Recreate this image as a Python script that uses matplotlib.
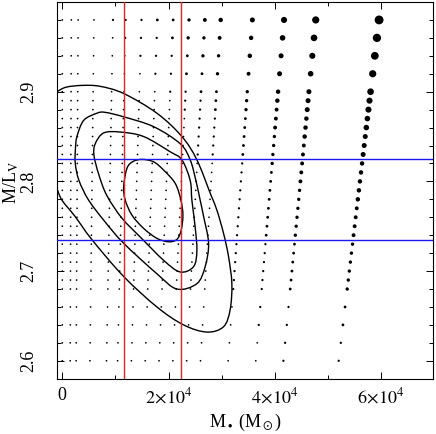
import numpy as np
import matplotlib
matplotlib.use("Agg")
import matplotlib.pyplot as plt
from matplotlib.path import Path
from matplotlib.patches import PathPatch
from matplotlib.ticker import MultipleLocator, FixedLocator

plt.rcParams['font.family'] = ['Liberation Serif', 'DejaVu Serif']
plt.rcParams['mathtext.fontset'] = 'stix'

# model grid: columns are M_BH/(M/L), rows are M/L_V (top to bottom)
mass_ratio = [0, 570, 1000, 2000, 3200, 4000, 5000, 6000, 7000, 8000,
              9000, 10000, 12000, 14000, 16000, 20000]
ml_rows = [2.98, 2.96, 2.94, 2.92, 2.90, 2.89, 2.88, 2.87, 2.86, 2.85,
           2.84, 2.83, 2.82, 2.81, 2.80, 2.79, 2.78, 2.77, 2.76, 2.75,
           2.74, 2.73, 2.72, 2.71, 2.70, 2.69, 2.68, 2.66, 2.64, 2.62, 2.60]
# dot size class per model (hex digit), one string per row
dot_class = [
    "2222333445678acf",
    "22222333455679be",
    "22222233345578ad",
    "222222233445689c",
    "222222223344578b",
    "222222222334578a",
    "222222222334568a",
    "2222222222334679",
    "2222222222334679",
    "2222222222334578",
    "2222222222334568",
    "2222222222334568",
    "2222222222223567",
    "2222222222223467",
    "2222222222223467",
    "2222222222223457",
    "2222222222223457",
    "2222222222223456",
    "2222222222223456",
    "2222222222223456",
    "2222222222223456",
    "2222222222223345",
    "2222222222223345",
    "2222222222223345",
    "2222222222223345",
    "2222222222223345",
    "2222222222223345",
    "2222222222222334",
    "2222222222222334",
    "2222222222222233",
    "2222222222222233",
]

# chi^2 contours (M_BH, M/L_V)
c1_m = [15000, 17180, 19060, 21240, 22310, 22690, 22370, 21560, 20000, 17800,
        15300, 13100, 11840, 11540, 12160, 13290]
c1_ml = [2.8245, 2.8218, 2.8126, 2.7978, 2.7792, 2.7624, 2.7457, 2.7353, 2.7327,
         2.7365, 2.7476, 2.7624, 2.7792, 2.7940, 2.8145, 2.8221]
c2_m = [10900, 15300, 20300, 22500, 24060, 24380, 25000, 25320, 24700, 22180,
        19060, 14660, 11220, 8400, 6900, 5960, 6200, 7780]
c2_ml = [2.855, 2.850, 2.833, 2.824, 2.801, 2.779, 2.749, 2.723, 2.705, 2.699,
         2.712, 2.738, 2.759, 2.784, 2.807, 2.829, 2.842, 2.854]
c3_m = [8030, 11540, 17180, 22180, 24060, 25130, 25940, 26580, 27520, 26880,
        25320, 21560, 17800, 11540, 8030, 4960, 3140, 2440, 2480, 2760, 4020, 6520]
c3_ml = [2.877, 2.872, 2.861, 2.842, 2.824, 2.801, 2.779, 2.761, 2.731, 2.705,
         2.686, 2.680, 2.697, 2.731, 2.755, 2.779, 2.801, 2.820, 2.837, 2.850,
         2.868, 2.876]
c4_m = [-1000, 700, 3700, 7090, 11540, 17800, 22500, 25320, 27950, 29080, 30340,
        31280, 31900, 31580, 30340, 27200, 22820, 17800, 11540, 5580, 2390, -60, -1000]
c4_ml = [2.900, 2.905, 2.907, 2.906, 2.898, 2.876, 2.850, 2.824, 2.785, 2.768,
         2.742, 2.716, 2.686, 2.657, 2.638, 2.632, 2.640, 2.660, 2.694, 2.735,
         2.761, 2.779, 2.792]

# 1-sigma ranges
mbh_lim = [11600, 22300]
ml_lim = [2.735, 2.825]


def smooth_path(ax, xs, ys, closed):
    # draw the read contour points as a smooth curve (Catmull-Rom as Bezier),
    # tangents taken in display space so axis scaling does not distort it
    p = ax.transData.transform(np.column_stack([xs, ys]))
    n = len(p)
    if closed:
        prev = np.roll(p, 1, axis=0)
        nxt = np.roll(p, -1, axis=0)
    else:
        prev = np.vstack([p[:1], p[:-1]])
        nxt = np.vstack([p[1:], p[-1:]])
    tang = (nxt - prev) / 6.0
    verts = [p[0]]
    codes = [Path.MOVETO]
    segs = n if closed else n - 1
    for i in range(segs):
        k = (i + 1) % n
        verts += [p[i] + tang[i], p[k] - tang[k], p[k]]
        codes += [Path.CURVE4] * 3
    path = Path(np.array(verts), codes)
    patch = PathPatch(path, facecolor='none', edgecolor='k', lw=1.0,
                      transform=None, zorder=3)
    patch.set_clip_box(ax.bbox)
    ax.add_artist(patch)


fig = plt.figure(figsize=(4.36, 4.34), dpi=100)
ax = fig.add_axes([0.1307, 0.1274, 0.8631, 0.868])

ax.set_xlim(-1000, 69800)
ax.set_ylim(2.58, 3.0)

xs, ys, ss = [], [], []
for i, ml in enumerate(ml_rows):
    for j, r in enumerate(mass_ratio):
        d = 0.6 + 0.55 * int(dot_class[i][j], 16)  # diameter in px
        xs.append(r * ml)
        ys.append(ml)
        ss.append((d * 0.72) ** 2)
ax.scatter(xs, ys, s=ss, c='k', marker='o', linewidths=0, zorder=2)

smooth_path(ax, c1_m, c1_ml, True)
smooth_path(ax, c2_m, c2_ml, True)
smooth_path(ax, c3_m, c3_ml, True)
smooth_path(ax, c4_m, c4_ml, False)

for m in mbh_lim:
    ax.axvline(m, color='#ee2222', lw=1.0, zorder=4)
for ml in ml_lim:
    ax.axhline(ml, color='#1a1aee', lw=1.0, zorder=4)

ax.xaxis.set_major_locator(FixedLocator([0, 20000, 40000, 60000]))
ax.set_xticklabels(['0', r'$2\!\times\!10^4$', r'$4\!\times\!10^4$', r'$6\!\times\!10^4$'])
ax.xaxis.set_minor_locator(MultipleLocator(10000))
ax.set_yticks([2.6, 2.7, 2.8, 2.9])
ax.yaxis.set_minor_locator(MultipleLocator(0.02))
ax.set_yticklabels(['2.6', '2.7', '2.8', '2.9'], rotation=90, va='center')

ax.tick_params(which='both', direction='in', top=True, right=True, width=0.7,
               labelsize=13)
ax.tick_params(which='major', length=5)
ax.tick_params(which='minor', length=3)
ax.tick_params(axis='x', pad=6)
ax.tick_params(axis='y', pad=14)
for sp in ax.spines.values():
    sp.set_linewidth(0.8)

ax.set_xlabel(r'M$_\bullet$ (M$_\odot$)', fontsize=13)
ax.set_ylabel(r'M/L$_{\rm V}$', fontsize=13)
ax.xaxis.set_label_coords(0.5, -0.088)
ax.yaxis.set_label_coords(-0.095, 0.52)

fig.savefig('out.png', dpi=100)
